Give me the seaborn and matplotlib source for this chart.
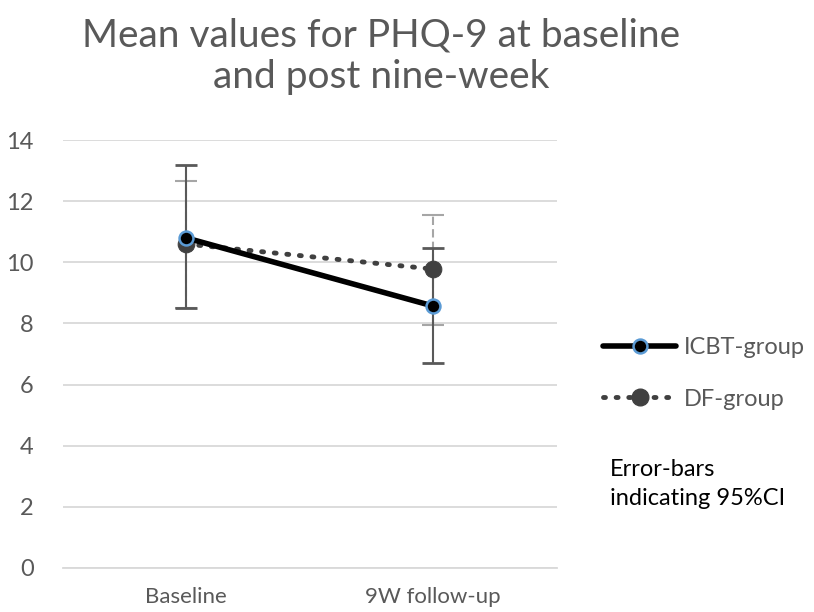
import matplotlib
matplotlib.use("Agg")
import matplotlib.pyplot as plt
import pandas as pd
import seaborn as sns
from matplotlib.lines import Line2D

timepoints = ["Baseline", "9W follow-up"]
icbt_mean = [10.8, 8.57]
icbt_upper = [13.2, 10.47]
icbt_lower = [8.5, 6.7]
df_mean = [10.6, 9.78]
df_upper = [12.66, 11.55]
df_lower = [8.5, 7.95]
y_ticks = [0, 2, 4, 6, 8, 10, 12, 14]

sns.set_theme(style="white")
plt.rcParams["font.family"] = ["Lato", "DejaVu Sans"]

data = pd.DataFrame({
    "time": timepoints * 2,
    "mean": icbt_mean + df_mean,
    "group": ["ICBT-group"] * 2 + ["DF-group"] * 2,
})

fig = plt.figure(figsize=(8.14, 6.12), dpi=100)
ax = fig.add_axes([0.077, 0.072, 0.607, 0.699])

# error bars first so the lines sit on top
x_pos = [0, 1]
eb_df = ax.errorbar(
    x_pos, df_mean,
    yerr=[[m - lo for m, lo in zip(df_mean, df_lower)], [hi - m for m, hi in zip(df_mean, df_upper)]],
    fmt="none", ecolor="#a6a6a6", elinewidth=1.5, capsize=8, capthick=1.5, zorder=2,
)
eb_df[2][0].set_linestyle((0, (4, 2)))
ax.errorbar(
    x_pos, icbt_mean,
    yerr=[[m - lo for m, lo in zip(icbt_mean, icbt_lower)], [hi - m for m, hi in zip(icbt_mean, icbt_upper)]],
    fmt="none", ecolor="#595959", elinewidth=1.5, capsize=8, capthick=2, zorder=2,
)

sns.lineplot(
    data=data[data["group"] == "DF-group"], x="time", y="mean", ax=ax,
    color="#404040", linewidth=3.5, linestyle=(0, (0.4, 2.2)), dash_capstyle="round",
    marker="o", markersize=12, markerfacecolor="#404040", markeredgecolor="#404040",
    legend=False, zorder=3,
)
sns.lineplot(
    data=data[data["group"] == "ICBT-group"], x="time", y="mean", ax=ax,
    color="black", linewidth=4, marker="o", markersize=10,
    markerfacecolor="black", markeredgecolor="#5b9bd5", markeredgewidth=1.8,
    legend=False, zorder=4,
)

ax.set_xlim(-0.5, 1.5)
ax.set_ylim(0, 14)
ax.set_yticks(y_ticks)
ax.yaxis.grid(True, color="#d9d9d9", linewidth=1.3)
ax.set_axisbelow(True)
for side in ["top", "right", "left"]:
    ax.spines[side].set_visible(False)
ax.spines["bottom"].set_color("#d9d9d9")
ax.spines["bottom"].set_linewidth(1.3)
ax.tick_params(axis="both", length=0, labelsize=17, colors="#595959")
ax.tick_params(axis="y", pad=21)
ax.tick_params(axis="x", pad=14, labelsize=16)
ax.set_xlabel("")
ax.set_ylabel("")

fig.suptitle("Mean values for PHQ-9 at baseline\nand post nine-week",
             x=0.468, y=0.972, fontsize=28, color="#595959", linespacing=1.2)

handles = [
    Line2D([], [], color="black", linewidth=4, marker="o", markersize=10,
           markerfacecolor="black", markeredgecolor="#5b9bd5", markeredgewidth=1.8),
    Line2D([], [], color="#404040", linewidth=3.5, linestyle=(0, (0.4, 2.2)), dash_capstyle="round",
           marker="o", markersize=12, markerfacecolor="#404040"),
]
fig.legend(handles, ["ICBT-group", "DF-group"], loc="center left",
           bbox_to_anchor=(0.741, 0.39), frameon=False, fontsize=17,
           labelcolor="#595959", handlelength=3.1, handletextpad=0.3, labelspacing=1.3,
           borderpad=0, borderaxespad=0)

fig.text(0.749, 0.209, "Error-bars\nindicating 95%CI", fontsize=17, color="black",
         ha="left", va="center", linespacing=1.5)

fig.savefig("out.png", dpi=100)
